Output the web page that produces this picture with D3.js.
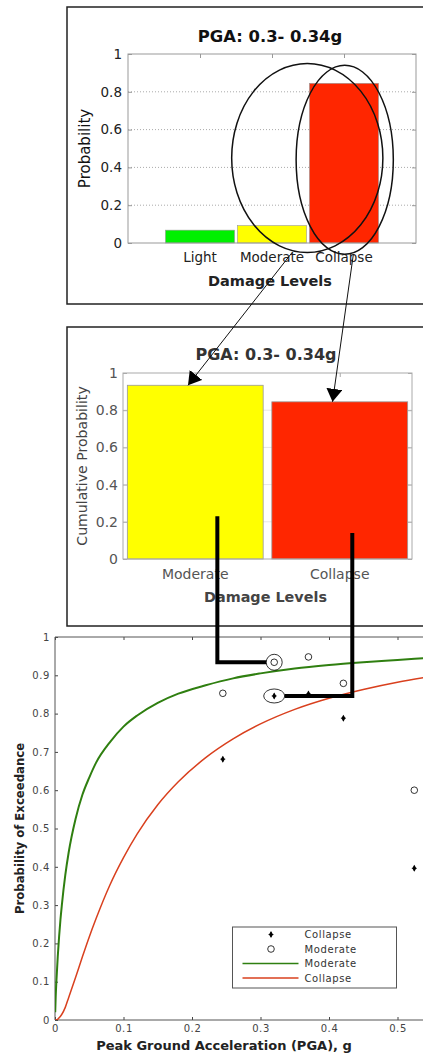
<!DOCTYPE html>
<html>
<head>
<meta charset="utf-8">
<script src="https://cdn.jsdelivr.net/npm/d3@7"></script>
<style>
body { margin: 0; background: #fff; }
svg { display: block; }
text { font-family: "DejaVu Sans", sans-serif; }
</style>
</head>
<body>
<script>
// values
var topCats = ["Light", "Moderate", "Collapse"];
var topProb = [0.068, 0.092, 0.845];
var topColors = ["#00f000", "#ffff00", "#ff2600"];
var cumCats = ["Moderate", "Collapse"];
var cumProb = [0.934, 0.845];
var cumColors = ["#ffff00", "#ff2600"];
var probTicks = [0, 0.2, 0.4, 0.6, 0.8, 1];
var title = "PGA: 0.3- 0.34g";

// observed points (PGA, probability of exceedance)
var pgaObs = [0.245, 0.32, 0.37, 0.421, 0.5245];
var modObs = [0.853, 0.934, 0.948, 0.879, 0.600];
var colObs = [0.681, 0.846, 0.851, 0.788, 0.396];

// fragility curves
var pgaCurve = [0.0003, 0.001, 0.002, 0.004, 0.006, 0.008, 0.01, 0.015, 0.02, 0.03, 0.04, 0.05, 0.06, 0.08, 0.1, 0.12, 0.15, 0.18, 0.22, 0.26, 0.3, 0.35, 0.4, 0.45, 0.5, 0.55];
var modCurve = [0.02, 0.06, 0.10, 0.165, 0.218, 0.263, 0.300, 0.378, 0.438, 0.525, 0.588, 0.633, 0.672, 0.725, 0.766, 0.795, 0.828, 0.852, 0.874, 0.892, 0.905, 0.918, 0.927, 0.934, 0.940, 0.946];
var colCurve = [0, 0, 0.0005, 0.002, 0.006, 0.01, 0.015, 0.033, 0.059, 0.111, 0.165, 0.217, 0.265, 0.352, 0.424, 0.486, 0.562, 0.622, 0.685, 0.734, 0.773, 0.811, 0.840, 0.863, 0.882, 0.897];
var exTicksY = [0, 0.1, 0.2, 0.3, 0.4, 0.5, 0.6, 0.7, 0.8, 0.9, 1];
var exTicksX = [0, 0.1, 0.2, 0.3, 0.4, 0.5];
var legendItems = [
	{ label: "Collapse", type: "dot" },
	{ label: "Moderate", type: "circle" },
	{ label: "Moderate", type: "line", color: "#2f7f10" },
	{ label: "Collapse", type: "line", color: "#d9401e" }
];

var width = 423, height = 1055;

var svg = d3.select('body').append('svg').attr('width', width).attr('height', height);
svg.append('rect').attr('width', width).attr('height', height).attr('fill', '#fff');

var defs = svg.append('defs');
defs.append('marker').attr('id', 'head').attr('markerUnits', 'userSpaceOnUse')
	.attr('markerWidth', 16).attr('markerHeight', 18).attr('refX', 13).attr('refY', 8)
	.attr('orient', 'auto')
	.append('path').attr('d', 'M0,0 L13,8 L0,16 Z').attr('fill', '#000');

// panel frames
svg.append('rect').attr('x', 67).attr('y', 7).attr('width', 420).attr('height', 297)
	.attr('fill', 'none').attr('stroke', '#222').attr('stroke-width', 1.5);
svg.append('rect').attr('x', 67).attr('y', 327).attr('width', 420).attr('height', 299)
	.attr('fill', 'none').attr('stroke', '#222').attr('stroke-width', 1.5);

function styleTicks(g, col) {
	g.select('.domain').remove();
	g.selectAll('.tick line').attr('stroke', col);
	g.selectAll('.tick text').attr('fill', col);
}

// ---------- top: probability per damage level ----------
var tx = d3.scaleLinear().domain([0, 4]).range([128, 416]);
var ty = d3.scaleLinear().domain([0, 1]).range([243, 54]);
var topG = svg.append('g');

topG.selectAll('.grid').data(probTicks.slice(1, 5)).enter().append('line')
	.attr('x1', tx(0)).attr('x2', tx(4)).attr('y1', d => ty(d)).attr('y2', d => ty(d))
	.attr('stroke', '#aaa').attr('stroke-dasharray', '1,2');

topG.selectAll('.bar').data(topProb).enter().append('rect')
	.attr('x', (d, i) => tx(i + 1 - 0.48)).attr('width', tx(0.96) - tx(0))
	.attr('y', d => ty(d)).attr('height', d => ty(0) - ty(d))
	.attr('fill', (d, i) => topColors[i]).attr('stroke', '#999').attr('stroke-width', 0.6);

topG.append('rect').attr('x', tx(0)).attr('y', ty(1)).attr('width', tx(4) - tx(0)).attr('height', ty(0) - ty(1))
	.attr('fill', 'none').attr('stroke', '#999');

topG.append('g').attr('transform', 'translate(' + tx(0) + ',0)')
	.call(d3.axisLeft(ty).tickValues(probTicks).tickSize(-4).tickPadding(6).tickFormat(d => String(d)))
	.call(g => styleTicks(g, '#999'))
	.call(g => g.selectAll('text').attr('fill', '#222').attr('font-size', 13.5).attr('font-family', '"DejaVu Sans"'));
topG.append('g').attr('transform', 'translate(' + tx(4) + ',0)')
	.call(d3.axisRight(ty).tickValues(probTicks).tickSize(-4).tickFormat(''))
	.call(g => styleTicks(g, '#999'));
topG.append('g').attr('transform', 'translate(0,' + ty(1) + ')')
	.call(d3.axisTop(tx).tickValues([1, 2, 3]).tickSize(-4).tickFormat(''))
	.call(g => styleTicks(g, '#999'));

topG.selectAll('.xl').data(topCats).enter().append('text')
	.attr('x', (d, i) => tx(i + 1)).attr('y', 262).attr('text-anchor', 'middle')
	.attr('font-size', 13.5).attr('fill', '#222').text(d => d);
topG.append('text').attr('x', 270).attr('y', 286).attr('text-anchor', 'middle')
	.attr('font-size', 14.5).attr('font-weight', 'bold').attr('fill', '#222').text('Damage Levels');
topG.append('text').attr('transform', 'translate(84.5,' + ((ty(0) + ty(1)) / 2) + ') rotate(-90)')
	.attr('dy', '0.35em').attr('text-anchor', 'middle').attr('font-size', 15).attr('fill', '#111').text('Probability');
topG.append('text').attr('x', 270).attr('y', 41.5).attr('text-anchor', 'middle')
	.attr('font-size', 16.4).attr('font-weight', 'bold').attr('fill', '#111').text(title);

// ---------- middle: cumulative probability ----------
var mx = d3.scaleLinear().domain([0.5, 2.5]).range([123, 412]);
var my = d3.scaleLinear().domain([0, 1]).range([559, 373]);
var mid = svg.append('g');

mid.selectAll('.grid').data(probTicks.slice(1, 5)).enter().append('line')
	.attr('x1', mx(0.5)).attr('x2', mx(2.5)).attr('y1', d => my(d)).attr('y2', d => my(d))
	.attr('stroke', '#e6e6e6');

mid.selectAll('.bar').data(cumProb).enter().append('rect')
	.attr('x', (d, i) => mx(i + 1 - 0.47)).attr('width', mx(1.44) - mx(0.5))
	.attr('y', d => my(d)).attr('height', d => my(0) - my(d))
	.attr('fill', (d, i) => cumColors[i]).attr('stroke', '#999').attr('stroke-width', 0.8);

mid.append('rect').attr('x', mx(0.5)).attr('y', my(1)).attr('width', mx(2.5) - mx(0.5)).attr('height', my(0) - my(1))
	.attr('fill', 'none').attr('stroke', '#aaa');

mid.append('g').attr('transform', 'translate(' + mx(0.5) + ',0)')
	.call(d3.axisLeft(my).tickValues(probTicks).tickSize(-4).tickPadding(5).tickFormat(d => String(d)))
	.call(g => styleTicks(g, '#aaa'))
	.call(g => g.selectAll('text').attr('fill', '#555').attr('font-size', 14).attr('font-family', '"DejaVu Sans"'));
mid.append('g').attr('transform', 'translate(' + mx(2.5) + ',0)')
	.call(d3.axisRight(my).tickValues(probTicks).tickSize(-4).tickFormat(''))
	.call(g => styleTicks(g, '#aaa'));
mid.append('g').attr('transform', 'translate(0,' + my(1) + ')')
	.call(d3.axisTop(mx).tickValues([1, 2]).tickSize(-4).tickFormat(''))
	.call(g => styleTicks(g, '#aaa'));

mid.selectAll('.xl').data(cumCats).enter().append('text')
	.attr('x', (d, i) => mx(i + 1)).attr('y', 579).attr('text-anchor', 'middle')
	.attr('font-size', 14).attr('fill', '#555').text(d => d);
mid.append('text').attr('x', 265.5).attr('y', 602).attr('text-anchor', 'middle')
	.attr('font-size', 14.4).attr('font-weight', 'bold').attr('fill', '#444').text('Damage Levels');
mid.append('text').attr('transform', 'translate(82,' + ((my(0) + my(1)) / 2) + ') rotate(-90)')
	.attr('dy', '0.35em').attr('text-anchor', 'middle').attr('font-size', 14.1).attr('fill', '#444').text('Cumulative Probability');
mid.append('text').attr('x', 266).attr('y', 360).attr('text-anchor', 'middle')
	.attr('font-size', 16).attr('font-weight', 'bold').attr('fill', '#333').text(title);

// ---------- bottom: fragility curves ----------
var bx = d3.scaleLinear().domain([0, 0.55]).range([55, 55 + 0.55 * 685]);
var by = d3.scaleLinear().domain([0, 1]).range([1020, 637]);
var bot = svg.append('g');

defs.append('clipPath').attr('id', 'plotclip').append('rect')
	.attr('x', bx(0)).attr('y', by(1)).attr('width', bx(0.55) - bx(0)).attr('height', by(0) - by(1));

var fmt = d => (d === 0 || d === 1) ? String(d) : d.toFixed(1);
var tickFont = g => g.selectAll('text').attr('fill', '#444').attr('font-size', 10)
	.attr('font-family', '"Liberation Sans", Arial, sans-serif').attr('letter-spacing', 0.6);

bot.append('g').attr('transform', 'translate(' + bx(0) + ',0)')
	.call(d3.axisLeft(by).tickValues(exTicksY).tickSize(-3).tickPadding(5).tickFormat(fmt))
	.call(g => styleTicks(g, '#444')).call(tickFont);
bot.append('g').attr('transform', 'translate(0,' + by(0) + ')')
	.call(d3.axisBottom(bx).tickValues(exTicksX).tickSize(-3).tickPadding(5).tickFormat(fmt))
	.call(g => styleTicks(g, '#444')).call(tickFont);
bot.append('g').attr('transform', 'translate(0,' + by(1) + ')')
	.call(d3.axisTop(bx).tickValues(exTicksX).tickSize(-3).tickFormat(''))
	.call(g => styleTicks(g, '#444'));

bot.append('path')
	.attr('d', 'M' + bx(0.55) + ',' + by(1) + 'H' + bx(0) + 'V' + by(0) + 'H' + bx(0.55))
	.attr('fill', 'none').attr('stroke', '#555');

var line = d3.line().x(d => bx(d[0])).y(d => by(d[1])).curve(d3.curveMonotoneX);
var plot = bot.append('g').attr('clip-path', 'url(#plotclip)');
plot.append('path').datum(pgaCurve.map((p, i) => [p, modCurve[i]])).attr('d', line)
	.attr('fill', 'none').attr('stroke', '#2f7f10').attr('stroke-width', 2);
plot.append('path').datum(pgaCurve.map((p, i) => [p, colCurve[i]])).attr('d', line)
	.attr('fill', 'none').attr('stroke', '#d9401e').attr('stroke-width', 1.5);

var dotSym = d3.symbol().type(d3.symbolDiamond).size(14);
function drawDot(g, x, y) {
	g.append('path').attr('d', dotSym()).attr('transform', 'translate(' + x + ',' + y + ')').attr('fill', '#000');
	g.append('path').attr('d', 'M' + (x - 2.5) + ',' + y + 'h5M' + x + ',' + (y - 2.5) + 'v5')
		.attr('stroke', '#000').attr('stroke-width', 0.8);
}
plot.selectAll('.mod').data(pgaObs).enter().append('circle')
	.attr('cx', d => bx(d)).attr('cy', (d, i) => by(modObs[i])).attr('r', 3.3)
	.attr('fill', 'none').attr('stroke', '#000').attr('stroke-width', 0.8);
pgaObs.forEach((p, i) => drawDot(plot, bx(p), by(colObs[i])));

// circled observations for the highlighted PGA bin
plot.append('circle').attr('cx', bx(pgaObs[1])).attr('cy', by(modObs[1])).attr('r', 8)
	.attr('fill', 'none').attr('stroke', '#000').attr('stroke-width', 0.8);
plot.append('ellipse').attr('cx', bx(pgaObs[1])).attr('cy', by(colObs[1])).attr('rx', 10.5).attr('ry', 7)
	.attr('fill', 'none').attr('stroke', '#000').attr('stroke-width', 0.8);

// legend
var lg = bot.append('g').attr('transform', 'translate(232.5,927)');
lg.append('rect').attr('width', 164).attr('height', 61).attr('fill', '#fff').attr('stroke', '#555');
legendItems.forEach((it, i) => {
	var y = 7.5 + i * 14.5;
	if (it.type === 'dot') drawDot(lg, 38.5, y);
	if (it.type === 'circle') lg.append('circle').attr('cx', 38.5).attr('cy', y).attr('r', 3.3)
		.attr('fill', 'none').attr('stroke', '#000').attr('stroke-width', 0.8);
	if (it.type === 'line') lg.append('line').attr('x1', 10).attr('x2', 66).attr('y1', y).attr('y2', y)
		.attr('stroke', it.color).attr('stroke-width', 1.5);
	lg.append('text').attr('x', 72).attr('y', y).attr('dy', '0.35em').attr('font-size', 10)
		.attr('font-family', '"Liberation Sans", Arial, sans-serif').attr('letter-spacing', 0.6)
		.attr('fill', '#333').text(it.label);
});

bot.append('text').attr('x', 224).attr('y', 1050).attr('text-anchor', 'middle')
	.attr('font-family', '"Liberation Sans", Arial, sans-serif').attr('font-size', 13).attr('font-weight', 'bold')
	.attr('fill', '#222').text('Peak Ground Acceleration (PGA), g');
bot.append('text').attr('transform', 'translate(20,' + ((by(0) + by(1)) / 2) + ') rotate(-90)')
	.attr('dy', '0.35em').attr('text-anchor', 'middle')
	.attr('font-family', '"Liberation Sans", Arial, sans-serif').attr('font-size', 11.7).attr('font-weight', 'bold')
	.attr('fill', '#222').text('Probability of Exceedance');

// ---------- annotations linking the panels ----------
var ann = svg.append('g');
ann.append('ellipse').attr('cx', tx(2.49)).attr('cy', ty(0.45)).attr('rx', tx(1.05) - tx(0)).attr('ry', ty(0) - ty(0.5))
	.attr('fill', 'none').attr('stroke', '#111').attr('stroke-width', 1.5);
ann.append('ellipse').attr('cx', tx(3.01)).attr('cy', ty(0.44)).attr('rx', tx(0.675) - tx(0)).attr('ry', ty(0) - ty(0.5))
	.attr('fill', 'none').attr('stroke', '#111').attr('stroke-width', 1.5);

ann.append('line').attr('x1', tx(2.28)).attr('y1', ty(-0.05)).attr('x2', mx(0.95)).attr('y2', my(cumProb[0]))
	.attr('stroke', '#111').attr('stroke-width', 1).attr('marker-end', 'url(#head)');
ann.append('line').attr('x1', tx(3.13)).attr('y1', ty(-0.06)).attr('x2', mx(1.95)).attr('y2', my(cumProb[1]))
	.attr('stroke', '#111').attr('stroke-width', 1).attr('marker-end', 'url(#head)');

ann.append('path')
	.attr('d', 'M' + bx(0.237) + ',' + my(0.23) + 'V' + by(modObs[1]) + 'H' + (bx(pgaObs[1]) - 8))
	.attr('fill', 'none').attr('stroke', '#000').attr('stroke-width', 4);
ann.append('path')
	.attr('d', 'M' + bx(0.434) + ',' + my(0.14) + 'V' + by(colObs[1]) + 'H' + (bx(pgaObs[1]) + 10.5))
	.attr('fill', 'none').attr('stroke', '#000').attr('stroke-width', 4);
</script>
</body>
</html>
